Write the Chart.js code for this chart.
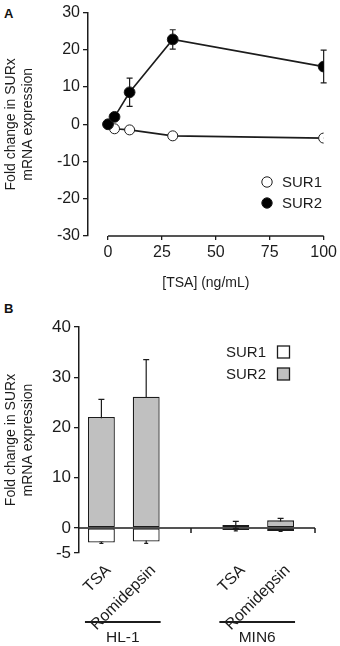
<!DOCTYPE html>
<html>
<head>
<meta charset="utf-8">
<script src="https://cdn.jsdelivr.net/npm/chart.js@4.4.1/dist/chart.umd.min.js"></script>
<style>
  body { margin: 0; background: #fff; font-family: 'Liberation Sans', Arial, sans-serif; }
  .wrap { position: absolute; left: 0; width: 340px; }
  .panel { position: absolute; left: 4px; font-weight: bold; font-size: 13px; color: #111; }
</style>
</head>
<body>
<div class="panel" style="top:6px">A</div>
<div class="wrap" style="top:0; height:296px"><canvas id="chartA" width="340" height="296"></canvas></div>
<div class="panel" style="top:301px">B</div>
<div class="wrap" style="top:300px; height:346px"><canvas id="chartB" width="340" height="346"></canvas></div>
<script>
// данные панели A (доза TSA)
var tsaDose = [0, 3, 10, 30, 100];
var sur1A = [0, -1.2, -1.5, -3.1, -3.7];
var sur2A = [0, 2.0, 8.6, 22.8, 15.5];
var sur2AErr = [0, 0, 3.8, 2.6, 4.4];
var xTicksA = [0, 25, 50, 75, 100];

// данные панели B
var drugLabels = ['TSA', 'Romidepsin', '', 'TSA', 'Romidepsin'];
var sur1B = [-2.9, -2.7, null, -0.4, -0.6];
var sur1BErr = [0.2, 0.4, null, 0.2, 0.1];
var sur2B = [22.1, 26.1, null, 0.6, 1.5];
var sur2BErr = [3.5, 7.4, null, 0.7, 0.4];
var yTicksB = [-5, 0, 10, 20, 30, 40];
var cellLines = ['HL-1', 'MIN6'];
var cellLineMembers = [[0, 1], [3, 4]];

var FONT = "'Liberation Sans', Arial, sans-serif";
var INK = '#1c1c1c';
Chart.defaults.font.family = FONT;
Chart.defaults.font.size = 14;
Chart.defaults.color = INK;

var yTitle = ['Fold change in SURx', 'mRNA expression'];

// планки погрешностей
var errorBars = {
    id: 'errorBars',
    beforeDatasetsDraw: function(chart) {
        var ctx = chart.ctx;
        var y = chart.scales.y;
        chart.data.datasets.forEach(function(ds, di) {
            if (!ds.errors) return;
            var meta = chart.getDatasetMeta(di);
            ctx.save();
            ctx.strokeStyle = INK;
            ctx.lineWidth = 1.2;
            meta.data.forEach(function(el, i) {
                var e = ds.errors[i];
                var raw = ds.data[i];
                if (!e || raw === null) return;
                var v = typeof raw === 'object' ? raw.y : raw;
                var top = y.getPixelForValue(v + e);
                var bot = y.getPixelForValue(v - e);
                var cap = ds.capWidth || 3;
                ctx.beginPath();
                ctx.moveTo(el.x, top); ctx.lineTo(el.x, bot);
                ctx.moveTo(el.x - cap, top); ctx.lineTo(el.x + cap, top);
                ctx.moveTo(el.x - cap, bot); ctx.lineTo(el.x + cap, bot);
                ctx.stroke();
            });
            ctx.restore();
        });
    }
};

// ось X панели A (без смещения от оси Y) и легенда
var panelAExtras = {
    id: 'panelAExtras',
    afterDraw: function(chart) {
        var ctx = chart.ctx;
        var x = chart.scales.x, area = chart.chartArea;
        ctx.save();
        ctx.strokeStyle = INK;
        ctx.lineWidth = 1.5;
        ctx.beginPath();
        ctx.moveTo(x.getPixelForValue(xTicksA[0]), area.bottom);
        ctx.lineTo(x.getPixelForValue(xTicksA[xTicksA.length - 1]), area.bottom);
        ctx.stroke();
        // легенда
        var items = [chart.data.datasets[1], chart.data.datasets[0]];
        items.forEach(function(ds, i) {
            var cy = 182 + i * 21;
            ctx.beginPath();
            ctx.arc(267, cy, 5.2, 0, Math.PI * 2);
            ctx.fillStyle = ds.pointBackgroundColor;
            ctx.fill();
            ctx.lineWidth = 1;
            ctx.strokeStyle = INK;
            ctx.stroke();
            ctx.fillStyle = INK;
            ctx.font = '15px ' + FONT;
            ctx.textBaseline = 'middle';
            ctx.textAlign = 'left';
            ctx.fillText(ds.label, 282, cy + 1);
        });
        ctx.restore();
    }
};

new Chart(document.getElementById('chartA'), {
    type: 'line',
    data: {
        datasets: [{
            label: 'SUR2',
            data: tsaDose.map(function(d, i) { return { x: d, y: sur2A[i] }; }),
            errors: sur2AErr,
            capWidth: 3,
            borderColor: INK,
            borderWidth: 1.6,
            pointRadius: 5.4,
            pointBackgroundColor: '#000',
            pointBorderColor: INK,
            pointBorderWidth: 1,
            order: 0
        }, {
            label: 'SUR1',
            data: tsaDose.map(function(d, i) { return { x: d, y: sur1A[i] }; }),
            borderColor: INK,
            borderWidth: 1.6,
            pointRadius: 5,
            pointBackgroundColor: '#fff',
            pointBorderColor: INK,
            pointBorderWidth: 1,
            order: 1
        }]
    },
    options: {
        responsive: false,
        animation: false,
        devicePixelRatio: 1,
        layout: { padding: { top: 9, right: 16, left: 0, bottom: 0 } },
        plugins: { legend: { display: false }, tooltip: { enabled: false } },
        scales: {
            x: {
                type: 'linear',
                min: -9.3,
                max: 100,
                afterBuildTicks: function(s) { s.ticks = xTicksA.map(function(v) { return { value: v }; }); },
                afterFit: function(s) { s.height = 60; },
                grid: { drawOnChartArea: false, tickLength: 4, color: INK, lineWidth: 1.3 },
                border: { display: false },
                ticks: { padding: 3, font: { size: 16 } },
                title: { display: true, text: '[TSA] (ng/mL)', font: { size: 14 }, padding: { top: 3 } }
            },
            y: {
                min: -30,
                max: 30,
                afterFit: function(s) { s.width = 88; },
                ticks: { stepSize: 10, padding: 3, font: { size: 16 } },
                grid: { drawOnChartArea: false, tickLength: 5, color: INK, lineWidth: 1.3 },
                border: { display: true, color: INK, width: 1.5 },
                title: { display: true, text: yTitle, font: { size: 14 }, padding: { top: 3, bottom: 0 } }
            }
        }
    },
    plugins: [errorBars, panelAExtras]
});

// ось X на уровне нуля, группы клеточных линий, легенда
var panelBExtras = {
    id: 'panelBExtras',
    afterDraw: function(chart) {
        var ctx = chart.ctx;
        var x = chart.scales.x, y = chart.scales.y, area = chart.chartArea;
        var y0 = y.getPixelForValue(0);
        var axisEnd = area.right + 12;
        ctx.save();
        ctx.strokeStyle = INK;
        ctx.lineWidth = 1.5;
        ctx.beginPath();
        ctx.moveTo(area.left, y0);
        ctx.lineTo(axisEnd, y0);
        var gapX = x.getPixelForValue(2);
        ctx.moveTo(gapX, y0); ctx.lineTo(gapX, y0 + 5);
        ctx.moveTo(axisEnd, y0); ctx.lineTo(axisEnd, y0 + 5);
        ctx.stroke();

        var meta = chart.getDatasetMeta(0);
        cellLineMembers.forEach(function(idx, g) {
            var first = meta.data[idx[0]], last = meta.data[idx[idx.length - 1]];
            var x1 = first.x - first.width / 2 - 3;
            var x2 = last.x + last.width / 2 + 1;
            var ly = area.bottom + 69;
            ctx.lineWidth = 2.2;
            ctx.beginPath();
            ctx.moveTo(x1, ly); ctx.lineTo(x2, ly);
            ctx.stroke();
            ctx.fillStyle = INK;
            ctx.font = '15.5px ' + FONT;
            ctx.textAlign = 'center';
            ctx.textBaseline = 'middle';
            ctx.fillText(cellLines[g], (x1 + x2) / 2, ly + 16);
        });

        // легенда
        chart.data.datasets.forEach(function(ds, i) {
            var cy = 52 + i * 22;
            ctx.fillStyle = INK;
            ctx.font = '15px ' + FONT;
            ctx.textAlign = 'right';
            ctx.textBaseline = 'middle';
            ctx.fillText(ds.label, 266, cy + 1);
            ctx.fillStyle = ds.backgroundColor;
            ctx.fillRect(277.5, cy - 6, 12, 12);
            ctx.lineWidth = 1.3;
            ctx.strokeStyle = INK;
            ctx.strokeRect(277.5, cy - 6, 12, 12);
        });
        ctx.restore();
    }
};

new Chart(document.getElementById('chartB'), {
    type: 'bar',
    data: {
        labels: drugLabels,
        datasets: [{
            label: 'SUR1',
            data: sur1B,
            errors: sur1BErr,
            capWidth: 2,
            backgroundColor: '#ffffff',
            borderColor: INK,
            borderWidth: 1.3,
            borderSkipped: false
        }, {
            label: 'SUR2',
            data: sur2B,
            errors: sur2BErr,
            capWidth: 3,
            backgroundColor: '#c0c0c0',
            borderColor: INK,
            borderWidth: 1.3,
            borderSkipped: false
        }]
    },
    options: {
        responsive: false,
        animation: false,
        devicePixelRatio: 1,
        layout: { padding: { top: 27, right: 37, left: 0, bottom: 0 } },
        plugins: { legend: { display: false }, tooltip: { enabled: false } },
        datasets: { bar: { barPercentage: 0.6, categoryPercentage: 1, skipNull: true } },
        scales: {
            x: {
                stacked: true,
                afterFit: function(s) { s.height = 93; },
                grid: { display: false },
                border: { display: false },
                ticks: { minRotation: 45, maxRotation: 45, padding: 0, labelOffset: 7, font: { size: 16 } }
            },
            y: {
                stacked: true,
                min: -5,
                max: 40,
                afterBuildTicks: function(s) { s.ticks = yTicksB.map(function(v) { return { value: v }; }); },
                afterFit: function(s) { s.width = 79; },
                ticks: { padding: 3, font: { size: 17 } },
                grid: { drawOnChartArea: false, tickLength: 5, color: INK, lineWidth: 1.3 },
                border: { display: true, color: INK, width: 1.5 },
                title: { display: true, text: yTitle, font: { size: 14 }, padding: { top: 3, bottom: 0 } }
            }
        }
    },
    plugins: [errorBars, panelBExtras]
});
</script>
</body>
</html>
